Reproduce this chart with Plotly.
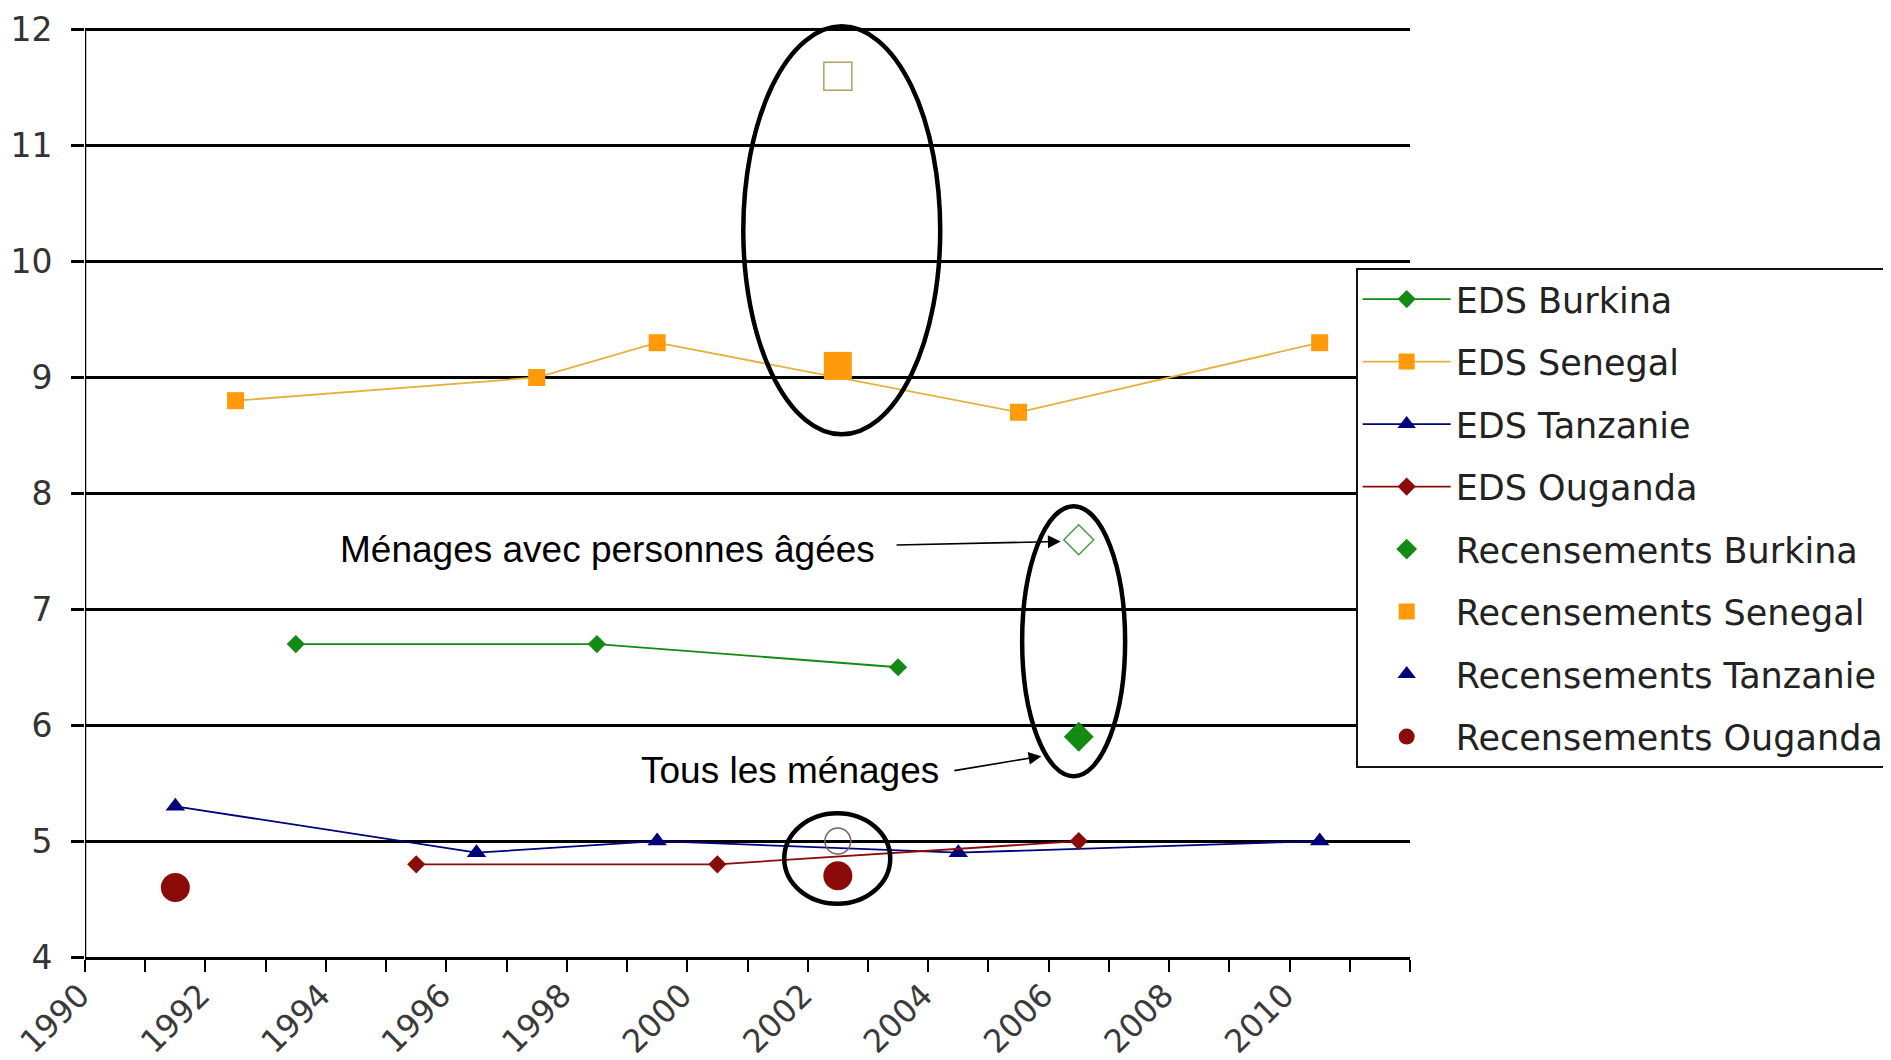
import plotly.graph_objects as go

# ---- data (year, mean household size) ----
eds_burkina_x = [1993.5, 1998.5, 2003.5]
eds_burkina_y = [6.7, 6.7, 6.5]
eds_senegal_x = [1992.5, 1997.5, 1999.5, 2005.5, 2010.5]
eds_senegal_y = [8.8, 9.0, 9.3, 8.7, 9.3]
eds_tanzanie_x = [1991.5, 1996.5, 1999.5, 2004.5, 2010.5]
eds_tanzanie_y = [5.3, 4.9, 5.0, 4.9, 5.0]
eds_ouganda_x = [1995.5, 2000.5, 2006.5]
eds_ouganda_y = [4.8, 4.8, 5.0]

rec_burkina_x = [2006.5]
rec_burkina_y = [5.9]
rec_senegal_x = [2002.5]
rec_senegal_y = [9.1]
rec_tanzanie_x = [None]   # legend entry only, no visible point in the chart
rec_tanzanie_y = [None]
rec_ouganda_x = [1991.5, 2002.5]
rec_ouganda_y = [4.6, 4.7]

# households with elderly persons (hollow markers)
agees_burkina_x = [2006.5]
agees_burkina_y = [7.6]
agees_senegal_x = [2002.5]
agees_senegal_y = [11.6]
agees_ouganda_x = [2002.5]
agees_ouganda_y = [5.0]

year_ticks = list(range(1990, 2013))
year_labels = [str(y) if (y % 2 == 0 and y < 2012) else "" for y in year_ticks]
y_ticks = [4, 5, 6, 7, 8, 9, 10, 11, 12]

GREEN = "#138a13"
ORANGE = "#ff9a0a"
SEN_LINE = "#e3b23c"
NAVY = "#00007a"
MAROON = "#8b0a0a"

fig = go.Figure()

def line_trace(x, y, name, color, symbol, size, lcolor=None):
    return go.Scatter(x=x, y=y, name=name, mode="lines+markers", legendgroup=name,
                      line=dict(color=lcolor or color, width=1.8),
                      marker=dict(color=color, symbol=symbol, size=size))

def mark_trace(x, y, name, color, symbol, size):
    return go.Scatter(x=x, y=y, name=name, mode="markers", legendgroup=name,
                      marker=dict(color=color, symbol=symbol, size=size))

fig.add_trace(line_trace(eds_burkina_x, eds_burkina_y, "EDS Burkina", GREEN, "diamond", 14))
fig.add_trace(line_trace(eds_senegal_x, eds_senegal_y, "EDS Senegal", ORANGE, "square", 17, SEN_LINE))
fig.add_trace(line_trace(eds_tanzanie_x, eds_tanzanie_y, "EDS Tanzanie", NAVY, "triangle-up", 17))
fig.add_trace(line_trace(eds_ouganda_x, eds_ouganda_y, "EDS Ouganda", MAROON, "diamond", 14))
fig.add_trace(mark_trace(rec_burkina_x, rec_burkina_y, "Recensements Burkina", GREEN, "diamond", 23))
fig.add_trace(mark_trace(rec_senegal_x, rec_senegal_y, "Recensements Senegal", ORANGE, "square", 28))
fig.add_trace(mark_trace(rec_tanzanie_x, rec_tanzanie_y, "Recensements Tanzanie", NAVY, "triangle-up", 20))
fig.add_trace(mark_trace(rec_ouganda_x, rec_ouganda_y, "Recensements Ouganda", MAROON, "circle", 29))

for xs, ys, sym, col, sz in [
    (agees_burkina_x, agees_burkina_y, "diamond-open", "#4a9a4a", 23),
    (agees_senegal_x, agees_senegal_y, "square-open", "#b0a060", 28),
    (agees_ouganda_x, agees_ouganda_y, "circle-open", "#7a6060", 26),
]:
    fig.add_trace(go.Scatter(x=xs, y=ys, mode="markers", showlegend=False,
                             marker=dict(symbol=sym, color=col, size=sz,
                                         line=dict(width=1.5, color=col))))

ann_font = dict(family="Liberation Sans, Arial, sans-serif", size=37, color="black")
fig.add_annotation(x=2003.15, y=7.52, xref="x", yref="y", text="Ménages avec personnes âgées",
                   showarrow=False, xanchor="right", yanchor="middle", font=ann_font)
fig.add_annotation(x=2004.22, y=5.61, xref="x", yref="y", text="Tous les ménages",
                   showarrow=False, xanchor="right", yanchor="middle", font=ann_font)
arrow = dict(xref="x", yref="y", axref="x", ayref="y", text="", showarrow=True,
             arrowhead=2, arrowsize=1.6, arrowwidth=1.6, arrowcolor="black")
fig.add_annotation(**arrow, x=2006.2, y=7.585, ax=2003.45, ay=7.555)
fig.add_annotation(**arrow, x=2005.88, y=5.733, ax=2004.41, ay=5.606)

x_tick_font = dict(family="DejaVu Sans, Verdana, sans-serif", size=32, color="#3a3a3a")
y_tick_font = dict(family="DejaVu Sans, Verdana, sans-serif", size=33, color="#333333")

fig.update_layout(
    width=1891, height=1060,
    margin=dict(l=77, r=489, t=16, b=111, autoexpand=False),
    paper_bgcolor="white", plot_bgcolor="white",
    showlegend=True,
    legend=dict(
        x=0.959, y=0.7387, xanchor="left", yanchor="top",
        bgcolor="white", bordercolor="#111", borderwidth=2,
        font=dict(family="DejaVu Sans, Verdana, sans-serif", size=35, color="#222"),
        traceorder="grouped", tracegroupgap=14, itemwidth=88,
    ),
    xaxis=dict(
        range=[1990, 2012], tickmode="array", tickvals=year_ticks, ticktext=year_labels,
        tickangle=-45, ticks="outside", ticklen=12, tickwidth=2, tickcolor="black",
        ticklabelstandoff=-8, ticklabelshift=-5,
        showline=True, linecolor="black", linewidth=2.5, showgrid=False, zeroline=False,
        tickfont=x_tick_font,
    ),
    yaxis=dict(
        range=[4, 12.05], tickmode="array", tickvals=y_ticks,
        ticks="outside", ticklen=13, tickwidth=2.5, tickcolor="black",
        ticklabelstandoff=12,
        showline=False,
        showgrid=True, gridcolor="black", gridwidth=2.5, zeroline=False,
        tickfont=y_tick_font,
    ),
)
# y axis line drawn from 4 to 12 only (as in the original chart)
fig.add_shape(type="line", xref="x", yref="y", x0=1990, x1=1990, y0=4, y1=12,
              line=dict(color="black", width=2.5), layer="above")

# highlight ellipses
ell = dict(type="circle", xref="x", yref="y", line=dict(color="black", width=4.5), layer="above")
fig.add_shape(**ell, x0=2000.93, x1=2004.2, y0=8.51, y1=12.03)
fig.add_shape(**ell, x0=2005.56, x1=2007.27, y0=5.56, y1=7.89)
fig.add_shape(**ell, x0=2001.61, x1=2003.37, y0=4.46, y1=5.24)

fig.write_html("out.html")
